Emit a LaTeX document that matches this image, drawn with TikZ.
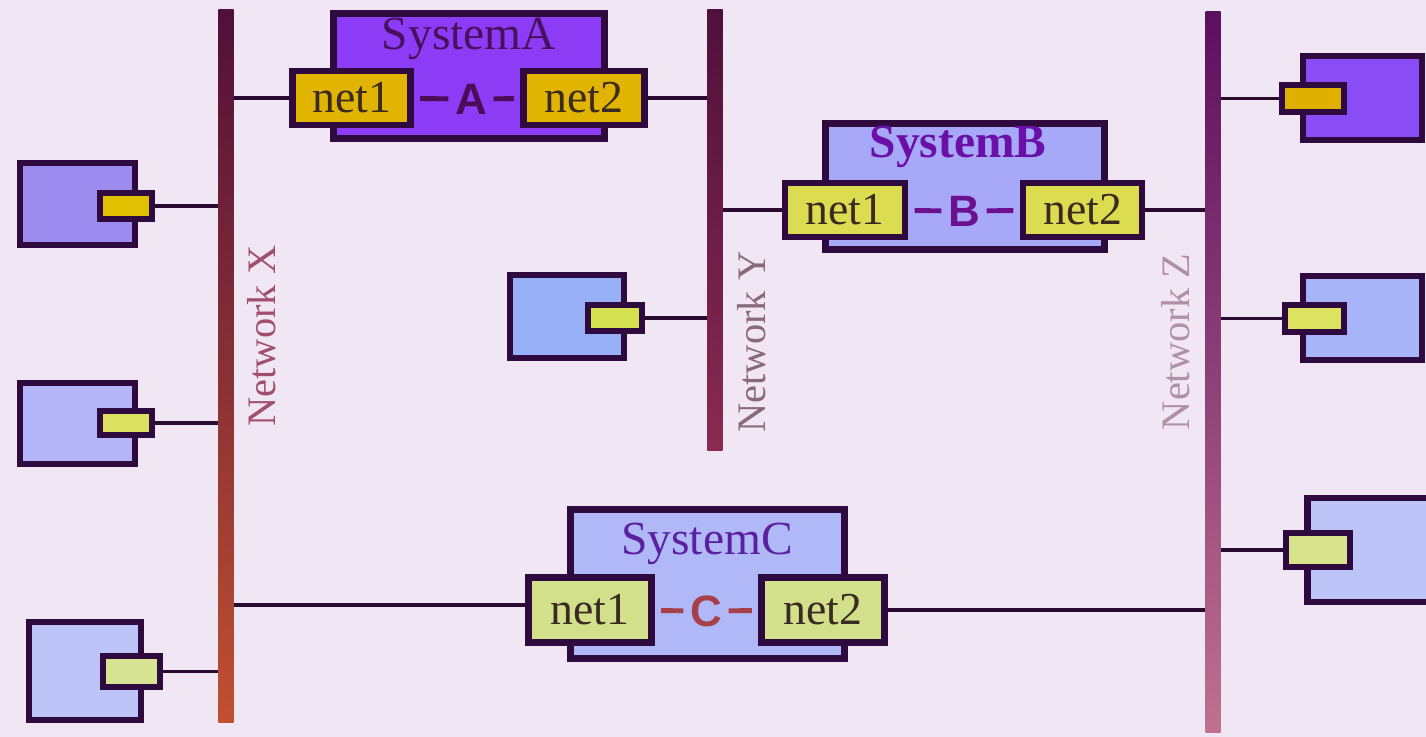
\documentclass[tikz,border=0pt]{standalone}
\usepackage{fontspec}
\setmainfont{Liberation Serif}
\setsansfont{Liberation Sans}
\usetikzlibrary{positioning}
\definecolor{bg}{HTML}{F1E6F4}
\definecolor{rim}{HTML}{2E0A3E}
\definecolor{wirec}{HTML}{2A0A30}
\definecolor{nettext}{HTML}{3A2A22}
% system fills
\definecolor{sysA}{HTML}{8C3CF4}
\definecolor{sysB}{HTML}{A8A8F8}
\definecolor{sysC}{HTML}{B0B8F8}
\definecolor{netA}{HTML}{E0B400}
\definecolor{netB}{HTML}{DCDC50}
\definecolor{netC}{HTML}{D2E08C}
\definecolor{titA}{HTML}{4A1060}
\definecolor{titB}{HTML}{6A10A8}
\definecolor{titC}{HTML}{5A20A0}
\definecolor{letA}{HTML}{4A0E58}
\definecolor{letB}{HTML}{6A1090}
\definecolor{letC}{HTML}{A8404A}
% bus colours
\definecolor{busXa}{HTML}{50103A}
\definecolor{busXb}{HTML}{8A1838}
\definecolor{busXc}{HTML}{C05030}
\definecolor{busYa}{HTML}{50103E}
\definecolor{busYb}{HTML}{8A2A50}
\definecolor{busZa}{HTML}{5A1060}
\definecolor{busZb}{HTML}{A01880}
\definecolor{busZc}{HTML}{C07090}
\definecolor{labX}{HTML}{A0506E}
\definecolor{labY}{HTML}{8A6A7A}
\definecolor{labZ}{HTML}{B090A8}

\tikzset{
  box/.style={rectangle,draw=rim,line width=1.8pt,inner sep=0pt},
  sized/.style 2 args={minimum width=#1cm,minimum height=#2cm},
  netbox/.style={box,sized={1.18}{0.54},text=nettext,font=\fontsize{13}{13}\selectfont},
  title/.style={anchor=base,inner sep=0pt,font=\fontsize{13.5}{13.5}\selectfont},
  letter/.style={inner sep=1pt,font=\sffamily\bfseries\fontsize{12.5}{12.5}\selectfont},
  link/.style={line width=1.4pt,shorten <=1.8pt,shorten >=0.7pt},
  wire/.style={draw=wirec,line width=0.9pt},
  bus/.style={rectangle,inner sep=0pt,minimum width=0.15cm},
  netlabel/.style={rotate=90,inner sep=0pt,font=\fontsize{11.5}{11.5}\selectfont},
}

\begin{document}
\begin{tikzpicture}[x=0.01cm,y=-0.01cm]
\fill[bg] (0,0) rectangle (1426,737);
\clip (0,0) rectangle (1426,737);

% the three networks
\node[bus,top color=busXa,middle color=busXb,bottom color=busXc,minimum height=7.12cm] (netX) at (226,366) {};
\node[bus,top color=busYa,bottom color=busYb,minimum height=4.40cm] (netY) at (715,230) {};
\node[bus,top color=busZa,middle color=busZb,bottom color=busZc,minimum height=7.21cm] (netZ) at (1213,372) {};
\node[netlabel,text=labX] (labX) at (262,336) {Network X};
\node[netlabel,text=labY] (labY) at (752,342) {Network Y};
\node[netlabel,text=labZ] (labZ) at (1176,342) {Network Z};

% SystemA
\node[box,sized={2.71}{1.25},fill=sysA] (sysA) at (469,76) {};
\node[title,text=titA] (tA) at (469,50) {SystemA};
\node[netbox,fill=netA] (n1A) at (351.5,98) {net1};
\node[netbox,fill=netA,minimum width=1.21cm] (n2A) at (584,98) {net2};
\node[letter,text=letA] (lA) at (471,99) {A};
\draw[link,draw=letA] (n1A) -- (lA);
\draw[link,draw=letA] (n2A) -- (lA);

% SystemB
\node[box,sized={2.79}{1.26},fill=sysB] (sysB) at (965,186.5) {};
\node[title,text=titB,font=\bfseries\fontsize{13.5}{13.5}\selectfont] (tB) at (958,158) {SystemB};
\node[netbox,fill=netB,minimum width=1.20cm] (n1B) at (845,210) {net1};
\node[netbox,fill=netB,minimum width=1.19cm] (n2B) at (1082.5,210) {net2};
\node[letter,text=letB] (lB) at (964,211) {B};
\draw[link,draw=letB] (n1B) -- (lB);
\draw[link,draw=letB] (n2B) -- (lB);

% SystemC
\node[box,sized={2.74}{1.49},fill=sysC] (sysC) at (707.5,584) {};
\node[title,text=titC] (tC) at (707,555) {SystemC};
\node[netbox,fill=netC,sized={1.23}{0.65}] (n1C) at (590,610) {net1};
\node[netbox,fill=netC,sized={1.23}{0.65}] (n2C) at (823,610) {net2};
\node[letter,text=letC] (lC) at (706,611) {C};
\draw[link,draw=letC] (n1C) -- (lC);
\draw[link,draw=letC] (n2C) -- (lC);

% hosts on the left
\node[box,sized={1.15}{0.82},fill={rgb,255:red,156;green,140;blue,240}] (hL1) at (77.5,204) {};
\node[box,sized={0.52}{0.26},fill={rgb,255:red,224;green,192;blue,0}] (pL1) at (126,206) {};
\node[box,sized={1.15}{0.81},fill={rgb,255:red,180;green,180;blue,248}] (hL2) at (77.5,423.5) {};
\node[box,sized={0.52}{0.24},fill={rgb,255:red,220;green,224;blue,96}] (pL2) at (126,423) {};
\node[box,sized={1.12}{0.98},fill={rgb,255:red,188;green,196;blue,248}] (hL3) at (85,671) {};
\node[box,sized={0.57}{0.31},fill={rgb,255:red,214;green,228;blue,148}] (pL3) at (131.5,671.5) {};
% host next to Network Y
\node[box,sized={1.14}{0.83},fill={rgb,255:red,152;green,176;blue,248}] (hM) at (567,316.5) {};
\node[box,sized={0.54}{0.26},fill={rgb,255:red,212;green,224;blue,80}] (pM) at (615,318) {};
% hosts on the right
\node[box,sized={1.19}{0.84},fill={rgb,255:red,138;green,76;blue,244}] (hR1) at (1362.5,98) {};
\node[box,sized={0.62}{0.27},fill={rgb,255:red,224;green,176;blue,0}] (pR1) at (1313,98.5) {};
\node[box,sized={1.19}{0.84},fill={rgb,255:red,168;green,180;blue,248}] (hR2) at (1362.5,318) {};
\node[box,sized={0.59}{0.27},fill={rgb,255:red,220;green,228;blue,96}] (pR2) at (1314.5,318.5) {};
\node[box,sized={1.29}{1.04},fill={rgb,255:red,188;green,196;blue,248}] (hR3) at (1372,550) {};
\node[box,sized={0.64}{0.34},fill={rgb,255:red,216;green,228;blue,140}] (pR3) at (1318,550) {};

% wires to the networks
\draw[wire] (n1A.west) -- (n1A.west -| netX.east);
\draw[wire] (n2A.east) -- (n2A.east -| netY.west);
\draw[wire] (n1B.west) -- (n1B.west -| netY.east);
\draw[wire] (n2B.east) -- (n2B.east -| netZ.west);
\draw[wire] ([yshift=0.05cm]n1C.west) -- ([yshift=0.05cm]n1C.west -| netX.east);
\draw[wire] (n2C.east) -- (n2C.east -| netZ.west);
\foreach \p in {pL1,pL2,pL3} \draw[wire] (\p.east) -- (\p.east -| netX.west);
\draw[wire] (pM.east) -- (pM.east -| netY.west);
\foreach \p in {pR1,pR2,pR3} \draw[wire] (\p.west) -- (\p.west -| netZ.east);
\end{tikzpicture}
\end{document}
